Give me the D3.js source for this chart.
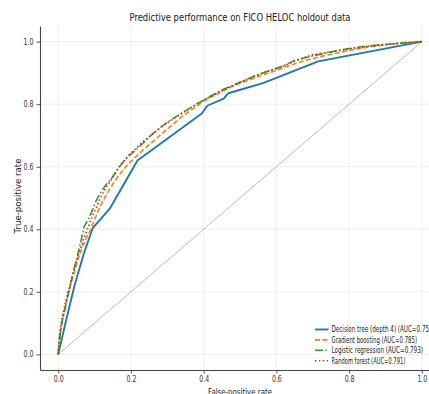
<!DOCTYPE html>
<html>
<head>
<meta charset="utf-8">
<script src="https://cdn.jsdelivr.net/npm/d3@7"></script>
<style>
  html, body { margin: 0; padding: 0; background: #fff; }
  #chart svg { display: block; font-family: "DejaVu Sans", sans-serif; }
</style>
</head>
<body>
<div id="chart"></div>
<script>
// ROC points: [false-positive rate, true-positive rate]
const treeRoc = [
  [0, 0], [0.02, 0.1], [0.045, 0.22], [0.07, 0.32], [0.095, 0.404], [0.143, 0.468],
  [0.218, 0.62], [0.395, 0.77], [0.41, 0.795], [0.455, 0.818], [0.468, 0.835],
  [0.565, 0.868], [0.715, 0.937], [1, 1]
];
const boostRoc = [
  [0, 0], [0.004, 0.05], [0.01, 0.1], [0.018, 0.145], [0.027, 0.19], [0.036, 0.23],
  [0.046, 0.27], [0.056, 0.31], [0.067, 0.345], [0.078, 0.375], [0.09, 0.4], [0.1, 0.43],
  [0.112, 0.465], [0.125, 0.495], [0.14, 0.525], [0.155, 0.553], [0.172, 0.58], [0.19, 0.605],
  [0.21, 0.628], [0.23, 0.65], [0.255, 0.675], [0.28, 0.7], [0.31, 0.73], [0.34, 0.76],
  [0.37, 0.785], [0.4, 0.81], [0.44, 0.835], [0.48, 0.858], [0.52, 0.875], [0.56, 0.893],
  [0.6, 0.908], [0.64, 0.925], [0.68, 0.94], [0.72, 0.952], [0.76, 0.962], [0.8, 0.972],
  [0.85, 0.982], [0.9, 0.99], [0.95, 0.996], [1, 1]
];
const logisticRoc = [
  [0, 0], [0.004, 0.05], [0.01, 0.1], [0.018, 0.14], [0.027, 0.19], [0.035, 0.23],
  [0.043, 0.27], [0.052, 0.31], [0.06, 0.35], [0.067, 0.385], [0.072, 0.41], [0.082, 0.43],
  [0.092, 0.455], [0.104, 0.49], [0.115, 0.515], [0.13, 0.54], [0.145, 0.56], [0.16, 0.585],
  [0.175, 0.61], [0.19, 0.63], [0.21, 0.65], [0.23, 0.672], [0.255, 0.7], [0.28, 0.725],
  [0.31, 0.75], [0.345, 0.775], [0.38, 0.8], [0.41, 0.82], [0.45, 0.845], [0.49, 0.865],
  [0.53, 0.885], [0.57, 0.903], [0.61, 0.918], [0.65, 0.94], [0.69, 0.952], [0.73, 0.962],
  [0.77, 0.972], [0.81, 0.98], [0.85, 0.986], [0.9, 0.991], [0.95, 0.996], [1, 1]
];
const forestRoc = [
  [0, 0], [0.003, 0.06], [0.008, 0.1], [0.015, 0.14], [0.024, 0.185], [0.033, 0.225],
  [0.042, 0.265], [0.052, 0.305], [0.062, 0.34], [0.072, 0.375], [0.083, 0.408], [0.093, 0.44],
  [0.105, 0.47], [0.118, 0.505], [0.132, 0.535], [0.147, 0.56], [0.162, 0.59], [0.178, 0.615],
  [0.195, 0.638], [0.215, 0.66], [0.235, 0.682], [0.26, 0.705], [0.285, 0.728], [0.315, 0.752],
  [0.35, 0.778], [0.385, 0.803], [0.42, 0.825], [0.46, 0.848], [0.5, 0.87], [0.54, 0.89],
  [0.58, 0.907], [0.62, 0.922], [0.66, 0.942], [0.7, 0.958], [0.74, 0.966], [0.78, 0.973],
  [0.82, 0.98], [0.86, 0.986], [0.9, 0.991], [0.95, 0.996], [1, 1]
];
const chanceLine = [[0, 0], [1, 1]];

const seriesNames = [
  'Decision tree (depth 4) (AUC=0.754)',
  'Gradient boosting (AUC=0.785)',
  'Logistic regression (AUC=0.793)',
  'Random forest (AUC=0.791)'
];
const tickValues = [0, 0.2, 0.4, 0.6, 0.8, 1.0];

function drawChart(width, height) {
  d3.select('#chart').selectAll('*').remove();

  // plot box (right edge runs past the window, as in the picture)
  const box = { left: 40, right: 440, top: 26, bottom: 370 };

  const x = d3.scaleLinear().domain([-0.05, 1.05]).range([box.left, box.right]);
  const y = d3.scaleLinear().domain([-0.05, 1.05]).range([box.bottom, box.top]);

  const svg = d3.select('#chart')
    .append('svg')
    .attr('width', width)
    .attr('height', height);

  // the picture's type is narrow, so text gets a fixed length (about 3px a character)
  function fit(sel, perChar) {
    sel.each(function() {
      const n = this.textContent.length;
      d3.select(this).attr('textLength', n * perChar).attr('lengthAdjust', 'spacingAndGlyphs');
    });
  }

  // grid
  svg.append('g').selectAll('line')
    .data(tickValues)
    .join('line')
    .attr('x1', d => x(d)).attr('x2', d => x(d))
    .attr('y1', box.top).attr('y2', box.bottom)
    .style('stroke', '#ebebeb').style('stroke-width', 0.8);
  svg.append('g').selectAll('line')
    .data(tickValues)
    .join('line')
    .attr('y1', d => y(d)).attr('y2', d => y(d))
    .attr('x1', box.left).attr('x2', box.right)
    .style('stroke', '#ebebeb').style('stroke-width', 0.8);

  // axes
  const xAxis = svg.append('g')
    .attr('transform', `translate(0,${box.bottom})`)
    .call(d3.axisBottom(x).tickValues(tickValues).tickFormat(d3.format('.1f'))
      .tickSize(3.5).tickSizeOuter(0).tickPadding(3));
  const yAxis = svg.append('g')
    .attr('transform', `translate(${box.left},0)`)
    .call(d3.axisLeft(y).tickValues(tickValues).tickFormat(d3.format('.1f'))
      .tickSize(3.5).tickSizeOuter(0).tickPadding(3));

  [xAxis, yAxis].forEach(ax => {
    ax.select('.domain').style('stroke', '#444').style('stroke-width', 1.1);
    ax.selectAll('.tick line').style('stroke', '#444').style('stroke-width', 0.9);
    ax.selectAll('.tick text')
      .style('font-family', '"DejaVu Sans", sans-serif')
      .style('font-size', '8px')
      .style('fill', '#333');
    fit(ax.selectAll('.tick text'), 3.3);
  });

  // chance diagonal
  const line = d3.line().x(d => x(d[0])).y(d => y(d[1]));
  svg.append('path')
    .datum(chanceLine)
    .attr('d', line)
    .style('fill', 'none')
    .style('stroke', '#aaaaaa')
    .style('stroke-width', 0.8);

  // ROC curves
  const curves = [
    { data: treeRoc, color: '#1f77b4', width: 1.9, dash: null },
    { data: boostRoc, color: '#ff7f0e', width: 1.6, dash: '5,2.4' },
    { data: logisticRoc, color: '#2ca02c', width: 1.6, dash: '8,2.4,1.5,2.4' },
    { data: forestRoc, color: '#d62728', width: 1.6, dash: '1.5,2.4' }
  ];
  curves.forEach(c => {
    svg.append('path')
      .datum(c.data)
      .attr('d', line)
      .style('fill', 'none')
      .style('stroke', c.color)
      .style('stroke-width', c.width)
      .style('stroke-dasharray', c.dash)
      .style('stroke-linejoin', 'round');
  });

  // title and axis labels
  svg.append('text')
    .attr('x', (box.left + box.right) / 2)
    .attr('y', 21)
    .attr('text-anchor', 'middle')
    .attr('textLength', 221)
    .attr('lengthAdjust', 'spacingAndGlyphs')
    .style('font-size', '10px')
    .style('fill', '#222')
    .text('Predictive performance on FICO HELOC holdout data');

  svg.append('text')
    .attr('x', (box.left + box.right) / 2)
    .attr('y', 395)
    .attr('text-anchor', 'middle')
    .attr('textLength', 64)
    .attr('lengthAdjust', 'spacingAndGlyphs')
    .style('font-size', '8.5px')
    .style('fill', '#222')
    .text('False-positive rate');

  svg.append('text')
    .attr('transform', `translate(21,${(box.top + box.bottom) / 2 - 2}) rotate(-90)`)
    .attr('text-anchor', 'middle')
    .attr('textLength', 75)
    .attr('lengthAdjust', 'spacingAndGlyphs')
    .style('font-size', '8.5px')
    .style('fill', '#222')
    .text('True-positive rate');

  // legend
  const legend = svg.append('g').attr('transform', 'translate(315,329.5)');
  curves.forEach((c, i) => {
    const row = legend.append('g').attr('transform', `translate(0,${i * 10.4})`);
    row.append('line')
      .attr('x1', 0).attr('x2', 13.5)
      .style('stroke', c.color)
      .style('stroke-width', c.width)
      .style('stroke-dasharray', c.dash);
    const t = row.append('text')
      .attr('x', 16.5)
      .attr('dy', '0.35em')
      .style('font-size', '8px')
      .style('fill', '#222')
      .text(seriesNames[i]);
    fit(t, 2.95);
  });
}

document.addEventListener('DOMContentLoaded', () => {
  drawChart(429, 394);
});
</script>
</body>
</html>
